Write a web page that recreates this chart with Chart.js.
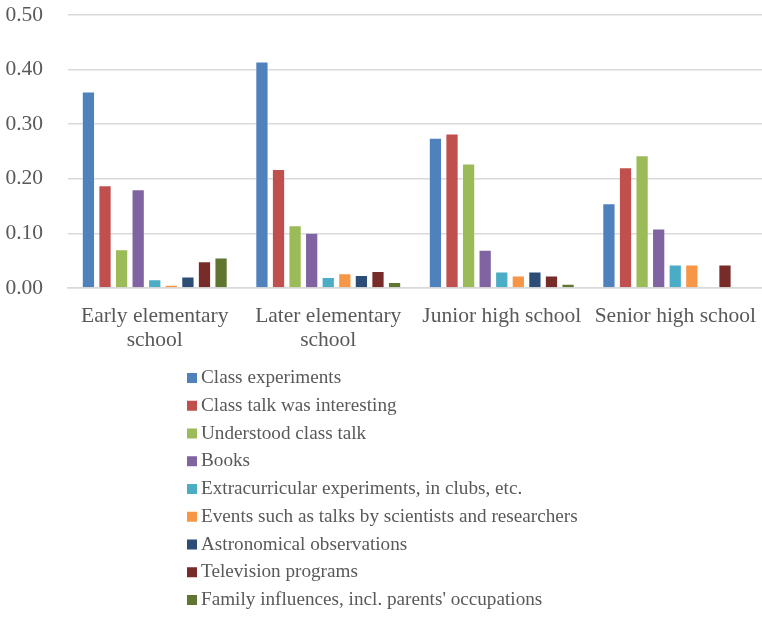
<!DOCTYPE html>
<html>
<head>
<meta charset="utf-8">
<script src="https://cdn.jsdelivr.net/npm/chart.js@4"></script>
<style>
    html, body { margin: 0; padding: 0; background: #ffffff; }
    #wrap { width: 762px; height: 617px; }
</style>
</head>
<body>
<div id="wrap"><canvas id="chart"></canvas></div>
<script>
// Kouluasteet (x-akseli)
const stages = [
    ["Early elementary", "school"],
    ["Later elementary", "school"],
    "Junior high school",
    "Senior high school"
];

// Sarjojen nimet
const seriesNames = [
    "Class experiments",
    "Class talk was interesting",
    "Understood class talk",
    "Books",
    "Extracurricular experiments, in clubs, etc.",
    "Events such as talks by scientists and researchers",
    "Astronomical observations",
    "Television programs",
    "Family influences, incl. parents' occupations"
];

// Osuudet per kouluaste
const classExperiments   = [0.360, 0.415, 0.275, 0.155];
const classTalkInterest  = [0.188, 0.218, 0.283, 0.221];
const understoodTalk     = [0.071, 0.115, 0.228, 0.243];
const books              = [0.181, 0.101, 0.070, 0.109];
const clubExperiments    = [0.016, 0.020, 0.030, 0.043];
const scientistEvents    = [0.006, 0.027, 0.023, 0.043];
const astronomy          = [0.021, 0.024, 0.030, 0];
const television         = [0.049, 0.031, 0.023, 0.043];
const familyInfluence    = [0.056, 0.011, 0.008, 0];

const yTicks = [0, 0.1, 0.2, 0.3, 0.4, 0.5];

const seriesValues = [
    classExperiments, classTalkInterest, understoodTalk, books,
    clubExperiments, scientistEvents, astronomy, television, familyInfluence
];

// Excelin perusvärit
const COLORS = ["#4F81BD", "#C0504D", "#9BBB59", "#8064A2", "#4BACC6", "#F79646", "#2C4D75", "#772C2A", "#5F7530"];

const TEXT = "#595959";
const FONT = "'Liberation Serif', 'Times New Roman', serif";

// Pystysuora selite kaavion alle
const columnLegend = {
    id: "columnLegend",
    afterDraw(chart) {
        const ctx = chart.ctx;
        ctx.save();
        ctx.font = "19.2px " + FONT;
        ctx.textBaseline = "middle";
        ctx.textAlign = "left";
        chart.data.datasets.forEach((ds, i) => {
            const y = 378 + i * 27.75;
            ctx.fillStyle = ds.backgroundColor;
            ctx.fillRect(187, y - 5, 10, 10);
            ctx.fillStyle = TEXT;
            ctx.fillText(ds.label, 201, y);
        });
        ctx.restore();
    }
};

new Chart(document.getElementById("chart"), {
    type: "bar",
    data: {
        labels: stages,
        datasets: seriesNames.map((name, i) => ({
            label: name,
            data: seriesValues[i],
            backgroundColor: COLORS[i],
            borderColor: "rgba(255,255,255,0.35)",
            borderWidth: 1,
            categoryPercentage: 0.86,
            barPercentage: 0.8
        }))
    },
    options: {
        responsive: true,
        maintainAspectRatio: false,
        animation: false,
        layout: { padding: { left: 6, top: 0, right: 0, bottom: 269 } },
        plugins: {
            legend: { display: false },
            tooltip: { enabled: false }
        },
        scales: {
            x: {
                grid: { display: false, drawTicks: false },
                border: { color: "#d9d9d9", width: 1.5 },
                ticks: {
                    color: TEXT,
                    font: { family: FONT, size: 21.5, lineHeight: 1.12 },
                    padding: 16,
                    maxRotation: 0,
                    autoSkip: false
                },
                // Akselin korkeus ja reunat kiinteiksi
                afterFit: axis => {
                    axis.height = 60;
                    axis.paddingLeft = 0;
                    axis.paddingRight = 0;
                }
            },
            y: {
                min: 0,
                max: 0.5,
                afterBuildTicks: axis => {
                    axis.ticks = yTicks.map(v => ({ value: v }));
                },
                grid: { color: "#d9d9d9", lineWidth: 1.5, drawTicks: false },
                border: { display: false },
                ticks: {
                    color: TEXT,
                    font: { family: FONT, size: 21.5 },
                    padding: 25,
                    callback: v => v.toFixed(2)
                },
                afterFit: axis => {
                    axis.width = 62;
                    axis.paddingTop = 15;
                    axis.paddingBottom = 0;
                }
            }
        }
    },
    plugins: [columnLegend]
});
</script>
</body>
</html>
